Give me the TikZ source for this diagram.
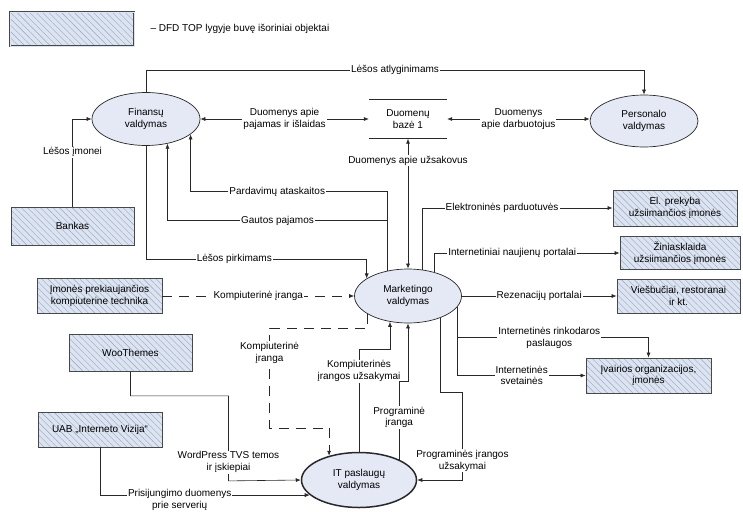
\documentclass[tikz,border=0pt]{standalone}
\usepackage{fontspec}
\setmainfont{Liberation Sans}
\definecolor{ProcFill}{RGB}{228,233,245}
\definecolor{EntFill} {RGB}{221,228,241}
\definecolor{Hatch}   {RGB}{150,164,190}
\definecolor{LineDark}{RGB}{40,40,40}
\usetikzlibrary{arrows.meta,shapes.geometric,patterns.meta}

\begin{document}
\begin{tikzpicture}[x=1pt,y=-1pt,>={Latex[length=5pt,width=4pt]},
    every node/.style={font=\fontsize{10}{11.8}\selectfont},
    proc/.style={ellipse,draw=LineDark,line width=0.7pt,fill=ProcFill,inner sep=1pt,align=center},
    ent/.style={draw=LineDark!85,line width=0.8pt,preaction={fill=EntFill},
      pattern={Lines[angle=135,distance=4.5pt,line width=0.4pt]},pattern color=Hatch,
      align=center,inner sep=1pt},
    flow/.style={draw=LineDark,line width=0.6pt,->},
    dsh/.style={dash pattern=on 10pt off 7pt},
    lbl/.style={fill=white,inner sep=1pt,align=center}]
  \useasboundingbox (0,0) rectangle (743,511);

  \node[ent,minimum width=124,minimum height=34,double=EntFill,double distance=0.8pt] (leg) at (72,29) {};
  \node[anchor=west] (legtxt) at (147,29) {– DFD TOP lygyje buvę išoriniai objektai};

  \node[proc,minimum width=108,minimum height=53] (fin)  at (146,119) {Finansų\\valdymas};
  \node[proc,minimum width=108,minimum height=52] (pers) at (644,121) {Personalo\\valdymas};
  \node[proc,minimum width=107,minimum height=54] (mkt)  at (408,296) {Marketingo\\valdymas};
  \node[proc,minimum width=115,minimum height=55,line width=1.5pt] (it) at (359,480) {IT paslaugų\\valdymas};

  \node[minimum width=78,minimum height=39,align=center] (db) at (408,119) {Duomenų\\bazė 1};
  \draw[LineDark,line width=0.8pt] (db.north west) -- (db.north east) (db.south west) -- (db.south east);

  \foreach \nm/\cx/\cy/\w/\h/\t in {
      bank/72.5/226/123/38/{Bankas},
      supp/99.5/296/125/35/{Įmonės prekiaujančios\\kompiuterine technika},
      woo/130.5/352.5/123/37/{WooThemes},
      uab/100/429.5/124/35/{UAB „Interneto Vizija“},
      eshop/675/208/124/36/{El. prekyba\\užsiimančios įmonės},
      media/680/253/120/33/{Žiniasklaida\\užsiimančios įmonės},
      hotel/678.5/296/123/34/{Viešbučiai, restoranai\\ir kt.},
      org/648.5/375.5/125/35/{Įvairios organizacijos,\\įmonės}}{
    \node[ent,minimum width=\w,minimum height=\h] (\nm) at (\cx,\cy) {\t};
  }

  \draw[flow] (bank.north) |- node[lbl,pos=0.31]{Lėšos įmonei} (fin.west);
  \draw[flow] (fin.north) -- ++(0,-22) -| node[lbl,pos=0.25]{Lėšos atlyginimams} (pers.north);
  \draw[flow,<->] (fin.east) -- node[lbl]{Duomenys apie\\pajamas ir išlaidas} (db.west);
  \draw[flow,<->] (db.east) -- node[lbl]{Duomenys\\apie darbuotojus} (db.east -| pers.west);
  \draw[flow,<->] (mkt.north) -- node[lbl,pos=0.83]{Duomenys apie užsakovus} (db.south);
  \draw[flow] (fin.south) -- ++(0,113) -| node[lbl,pos=0.2]{Lėšos pirkimams} (mkt.157);
  \draw[flow] (mkt.129) -- ++(0,-79) -| node[lbl,pos=0.28]{Pardavimų ataskaitos} (fin.-19);
  \draw[flow] (mkt.129) -- ++(0,-50) -| node[lbl,pos=0.25]{Gautos pajamos} (fin.-49);

  \draw[flow] (mkt.62) |- node[lbl,pos=0.71]{Elektroninės parduotuvės} (eshop.west);
  \draw[flow] (mkt.42) |- node[lbl,pos=0.71]{Internetiniai naujienų portalai} (media.west);
  \draw[flow] (mkt.east) -- node[lbl]{Rezenacijų portalai} (hotel.west);
  \draw[flow] (mkt.-12) -- ++(0,31) -| node[lbl,pos=0.24]{Internetinės rinkodaros\\paslaugos} (org.north);
  \draw[flow] (mkt.-12) |- node[lbl,pos=0.75]{Internetinės\\svetainės} (org.west);

  \draw[flow,dsh] (supp.east) -- node[lbl]{Kompiuterinė įranga} (mkt.west);
  \draw[flow,dsh] (mkt.204) |- ++(-98,14) -- node[lbl,pos=0.25]{Kompiuterinė\\įranga} ++(0,100) -| (it.141);
  \draw[flow] (it.north) -- node[lbl,pos=0.79]{Kompiuterinės\\įrangos užsakymai} ++(0,-102) -| (mkt.235);
  \draw[flow] (it.27) -- node[lbl,pos=0.54]{Programinė\\įranga} ++(0,-78) -| (mkt.south);
  \draw[flow] (mkt.-34) |- ++(22,74) |- node[lbl,pos=0.39]{Programinės įrangos\\užsakymai} (it.east);

  \draw[flow] (woo.south) -- ++(0,24.5) -| node[lbl,pos=0.89]{WordPress TVS temos\\ir įskiepiai} ++(98,85) -- (it.west);
  \draw[flow] (uab.south) |- node[lbl,pos=0.69,yshift=-5]{Prisijungimo duomenys\\prie serverių} (it.197);
\end{tikzpicture}
\end{document}
